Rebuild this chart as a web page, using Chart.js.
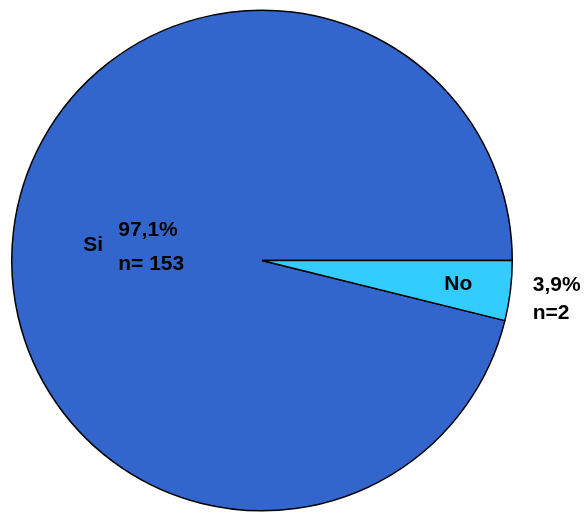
<!DOCTYPE html>
<html>
<head>
<meta charset="utf-8">
<script src="https://cdn.jsdelivr.net/npm/chart.js@4/dist/chart.umd.min.js"></script>
<style>
  html, body { margin: 0; padding: 0; background: #ffffff; }
  #wrap { width: 586px; height: 513px; position: relative; }
</style>
</head>
<body>
<div id="wrap"><canvas id="pie"></canvas></div>
<script>
// Answers and their shares (percent) with counts
const categories = ['Si', 'No'];
const percents = [97.1, 3.9];
const counts = [153, 2];
const colors = ['#3366CC', '#33CCFF'];

const fmt = v => v.toFixed(1).replace('.', ',') + '%';

// Draws category names inside slices and value/count labels
const sliceLabels = {
  id: 'sliceLabels',
  afterDatasetsDraw(chart) {
    const ctx = chart.ctx;
    const arcs = chart.getDatasetMeta(0).data;
    ctx.save();
    ctx.fillStyle = '#000000';
    ctx.font = 'bold 21px "Liberation Sans", Arial, sans-serif';
    ctx.textBaseline = 'middle';
    arcs.forEach((arc, i) => {
      const { x, y, startAngle, endAngle, outerRadius: R } = arc.getProps(['x', 'y', 'startAngle', 'endAngle', 'outerRadius'], true);
      const mid = (startAngle + endAngle) / 2;
      const cx = Math.cos(mid), cy = Math.sin(mid);
      if (i === 0) {
        // name well inside, value block closer to centre
        ctx.textAlign = 'center';
        ctx.fillText(categories[i], x + cx * R * 0.68, y + cy * R * 0.68 + 5);
        const bx = x + cx * R * 0.45 - 32, by = y + cy * R * 0.45;
        ctx.textAlign = 'left';
        ctx.fillText(fmt(percents[i]), bx, by - 17);
        ctx.fillText('n= ' + counts[i], bx, by + 17);
      } else {
        ctx.textAlign = 'center';
        ctx.fillText(categories[i], x + cx * R * 0.79, y + cy * R * 0.79);
        const bx = x + cx * R * 1.09, by = y + cy * R * 1.09;
        ctx.textAlign = 'left';
        ctx.fillText(fmt(percents[i]), bx, by - 8);
        ctx.fillText('n=' + counts[i], bx, by + 20);
      }
    });
    ctx.restore();
  }
};

const noShare = percents[1] / percents.reduce((a, b) => a + b, 0);

new Chart(document.getElementById('pie'), {
  type: 'pie',
  data: {
    labels: categories,
    datasets: [{
      data: percents,
      backgroundColor: colors,
      borderColor: '#000000',
      borderWidth: 1.5
    }]
  },
  options: {
    responsive: true,
    maintainAspectRatio: false,
    animation: false,
    rotation: 90 + noShare * 360,
    layout: { padding: { top: 9, bottom: 1, left: 11, right: 73 } },
    plugins: {
      legend: { display: false },
      tooltip: { enabled: false }
    }
  },
  plugins: [sliceLabels]
});
</script>
</body>
</html>
